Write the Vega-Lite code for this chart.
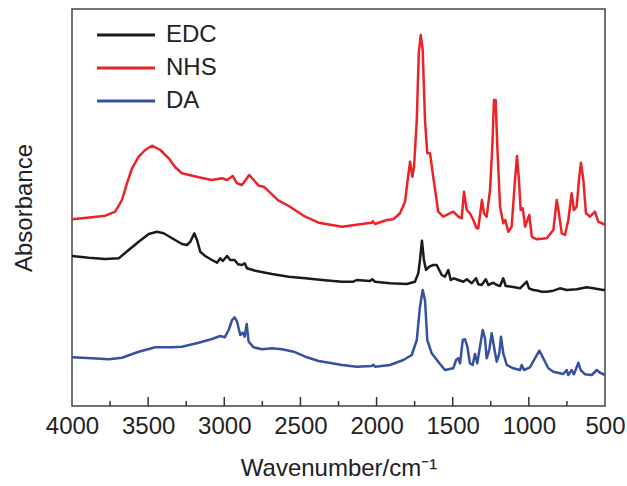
{
  "$schema": "https://vega.github.io/schema/vega-lite/v6.json",
  "autosize": "none",
  "width": 533,
  "height": 397,
  "padding": {"left": 72, "top": 9, "right": 22, "bottom": 80},
  "background": "#ffffff",
  "config": {
    "font": "Liberation Sans",
    "view": {"stroke": "#444444", "strokeWidth": 1.5},
    "axis": {"labelFont": "Liberation Sans", "titleFont": "Liberation Sans", "labelColor": "#222222", "titleColor": "#222222", "titleFontWeight": "normal", "grid": false},
    "legend": {"labelFont": "Liberation Sans", "labelColor": "#222222"}
  },
  "datasets": {
    "spectra": [
      {"s":"NHS","wn":4000,"a":186.7},{"s":"NHS","wn":3869,"a":188.7},{"s":"NHS","wn":3781,"a":190.3},{"s":"NHS","wn":3716,"a":194.3},{"s":"NHS","wn":3672,"a":206},{"s":"NHS","wn":3639,"a":222.7},{"s":"NHS","wn":3606,"a":237.7},{"s":"NHS","wn":3562,"a":249.3},{"s":"NHS","wn":3519,"a":256},{"s":"NHS","wn":3475,"a":260.3},{"s":"NHS","wn":3420,"a":256},{"s":"NHS","wn":3365,"a":247.7},{"s":"NHS","wn":3322,"a":238.7},{"s":"NHS","wn":3278,"a":232.7},{"s":"NHS","wn":3168,"a":228.7},{"s":"NHS","wn":3081,"a":226},{"s":"NHS","wn":3015,"a":227.7},{"s":"NHS","wn":2982,"a":226},{"s":"NHS","wn":2945,"a":230},{"s":"NHS","wn":2916,"a":222.7},{"s":"NHS","wn":2884,"a":221},{"s":"NHS","wn":2836,"a":231},{"s":"NHS","wn":2807,"a":226},{"s":"NHS","wn":2774,"a":220.3},{"s":"NHS","wn":2741,"a":219.3},{"s":"NHS","wn":2643,"a":205.3},{"s":"NHS","wn":2577,"a":200},{"s":"NHS","wn":2468,"a":189.3},{"s":"NHS","wn":2380,"a":183.3},{"s":"NHS","wn":2293,"a":181},{"s":"NHS","wn":2227,"a":179.3},{"s":"NHS","wn":2109,"a":181.7},{"s":"NHS","wn":2032,"a":183.3},{"s":"NHS","wn":2025,"a":184.7},{"s":"NHS","wn":2010,"a":182},{"s":"NHS","wn":1933,"a":186},{"s":"NHS","wn":1890,"a":186.7},{"s":"NHS","wn":1846,"a":192.7},{"s":"NHS","wn":1813,"a":204.3},{"s":"NHS","wn":1796,"a":226},{"s":"NHS","wn":1780,"a":244.3},{"s":"NHS","wn":1765,"a":229.3},{"s":"NHS","wn":1754,"a":239.3},{"s":"NHS","wn":1736,"a":286},{"s":"NHS","wn":1723,"a":352.7},{"s":"NHS","wn":1710,"a":371},{"s":"NHS","wn":1697,"a":356},{"s":"NHS","wn":1682,"a":286},{"s":"NHS","wn":1667,"a":252.7},{"s":"NHS","wn":1649,"a":252.7},{"s":"NHS","wn":1628,"a":229.3},{"s":"NHS","wn":1595,"a":194.3},{"s":"NHS","wn":1562,"a":189.3},{"s":"NHS","wn":1496,"a":194.3},{"s":"NHS","wn":1463,"a":189.3},{"s":"NHS","wn":1441,"a":187.7},{"s":"NHS","wn":1426,"a":214.3},{"s":"NHS","wn":1408,"a":196},{"s":"NHS","wn":1387,"a":192.7},{"s":"NHS","wn":1365,"a":186},{"s":"NHS","wn":1343,"a":177.7},{"s":"NHS","wn":1332,"a":177.7},{"s":"NHS","wn":1325,"a":186},{"s":"NHS","wn":1308,"a":206},{"s":"NHS","wn":1295,"a":192.7},{"s":"NHS","wn":1277,"a":189.3},{"s":"NHS","wn":1255,"a":216},{"s":"NHS","wn":1240,"a":259.3},{"s":"NHS","wn":1229,"a":306},{"s":"NHS","wn":1218,"a":306},{"s":"NHS","wn":1207,"a":259.3},{"s":"NHS","wn":1189,"a":199.3},{"s":"NHS","wn":1168,"a":182.7},{"s":"NHS","wn":1155,"a":186},{"s":"NHS","wn":1135,"a":174.3},{"s":"NHS","wn":1113,"a":179.3},{"s":"NHS","wn":1091,"a":226},{"s":"NHS","wn":1078,"a":250},{"s":"NHS","wn":1065,"a":226},{"s":"NHS","wn":1054,"a":196},{"s":"NHS","wn":1040,"a":197.7},{"s":"NHS","wn":1025,"a":179.3},{"s":"NHS","wn":1010,"a":186},{"s":"NHS","wn":997,"a":191},{"s":"NHS","wn":981,"a":169.3},{"s":"NHS","wn":948,"a":166.7},{"s":"NHS","wn":883,"a":167.7},{"s":"NHS","wn":839,"a":176},{"s":"NHS","wn":817,"a":206},{"s":"NHS","wn":804,"a":194.3},{"s":"NHS","wn":784,"a":172.7},{"s":"NHS","wn":763,"a":171},{"s":"NHS","wn":741,"a":186},{"s":"NHS","wn":719,"a":212.7},{"s":"NHS","wn":704,"a":196},{"s":"NHS","wn":686,"a":199.3},{"s":"NHS","wn":669,"a":229.3},{"s":"NHS","wn":658,"a":243.3},{"s":"NHS","wn":642,"a":226},{"s":"NHS","wn":625,"a":192.7},{"s":"NHS","wn":598,"a":189.3},{"s":"NHS","wn":566,"a":194.3},{"s":"NHS","wn":544,"a":184.3},{"s":"NHS","wn":511,"a":182},{"s":"NHS","wn":500,"a":181},

      {"s":"EDC","wn":4000,"a":150},{"s":"EDC","wn":3890,"a":148.3},{"s":"EDC","wn":3781,"a":147},{"s":"EDC","wn":3693,"a":147.7},{"s":"EDC","wn":3628,"a":156},{"s":"EDC","wn":3562,"a":164.3},{"s":"EDC","wn":3496,"a":172},{"s":"EDC","wn":3442,"a":174.3},{"s":"EDC","wn":3398,"a":172.7},{"s":"EDC","wn":3343,"a":167.7},{"s":"EDC","wn":3278,"a":162},{"s":"EDC","wn":3245,"a":161},{"s":"EDC","wn":3223,"a":164.3},{"s":"EDC","wn":3197,"a":172.7},{"s":"EDC","wn":3179,"a":166},{"s":"EDC","wn":3158,"a":154.3},{"s":"EDC","wn":3125,"a":150},{"s":"EDC","wn":3081,"a":146},{"s":"EDC","wn":3048,"a":143.3},{"s":"EDC","wn":3026,"a":147.7},{"s":"EDC","wn":3010,"a":145},{"s":"EDC","wn":2982,"a":150},{"s":"EDC","wn":2961,"a":146},{"s":"EDC","wn":2932,"a":146},{"s":"EDC","wn":2910,"a":141.7},{"s":"EDC","wn":2884,"a":141},{"s":"EDC","wn":2866,"a":142.7},{"s":"EDC","wn":2851,"a":137.7},{"s":"EDC","wn":2796,"a":135.3},{"s":"EDC","wn":2687,"a":132},{"s":"EDC","wn":2577,"a":129.3},{"s":"EDC","wn":2468,"a":127.7},{"s":"EDC","wn":2358,"a":126},{"s":"EDC","wn":2227,"a":124.3},{"s":"EDC","wn":2153,"a":124.3},{"s":"EDC","wn":2130,"a":126},{"s":"EDC","wn":2043,"a":125},{"s":"EDC","wn":2028,"a":126.7},{"s":"EDC","wn":2010,"a":124.3},{"s":"EDC","wn":1912,"a":122.7},{"s":"EDC","wn":1802,"a":122},{"s":"EDC","wn":1748,"a":124.3},{"s":"EDC","wn":1726,"a":132.7},{"s":"EDC","wn":1715,"a":146},{"s":"EDC","wn":1702,"a":165.3},{"s":"EDC","wn":1689,"a":146},{"s":"EDC","wn":1675,"a":136},{"s":"EDC","wn":1654,"a":139.3},{"s":"EDC","wn":1628,"a":141},{"s":"EDC","wn":1605,"a":141},{"s":"EDC","wn":1572,"a":131},{"s":"EDC","wn":1551,"a":129.3},{"s":"EDC","wn":1529,"a":136},{"s":"EDC","wn":1513,"a":126},{"s":"EDC","wn":1492,"a":127.7},{"s":"EDC","wn":1463,"a":126},{"s":"EDC","wn":1430,"a":124.3},{"s":"EDC","wn":1408,"a":126.7},{"s":"EDC","wn":1375,"a":122.7},{"s":"EDC","wn":1347,"a":127.7},{"s":"EDC","wn":1332,"a":121.7},{"s":"EDC","wn":1310,"a":121},{"s":"EDC","wn":1283,"a":126.7},{"s":"EDC","wn":1266,"a":121},{"s":"EDC","wn":1233,"a":123.3},{"s":"EDC","wn":1211,"a":121},{"s":"EDC","wn":1189,"a":120},{"s":"EDC","wn":1168,"a":127.7},{"s":"EDC","wn":1152,"a":120},{"s":"EDC","wn":1113,"a":119.3},{"s":"EDC","wn":1058,"a":117.7},{"s":"EDC","wn":1014,"a":124.3},{"s":"EDC","wn":999,"a":117.7},{"s":"EDC","wn":971,"a":116},{"s":"EDC","wn":938,"a":115.3},{"s":"EDC","wn":916,"a":114.3},{"s":"EDC","wn":883,"a":114.3},{"s":"EDC","wn":839,"a":115.3},{"s":"EDC","wn":796,"a":117.7},{"s":"EDC","wn":752,"a":116},{"s":"EDC","wn":686,"a":116.7},{"s":"EDC","wn":620,"a":118.7},{"s":"EDC","wn":577,"a":117.7},{"s":"EDC","wn":511,"a":116},{"s":"EDC","wn":500,"a":116},

      {"s":"DA","wn":4000,"a":48.7},{"s":"DA","wn":3869,"a":47.7},{"s":"DA","wn":3759,"a":46.7},{"s":"DA","wn":3672,"a":48.3},{"s":"DA","wn":3562,"a":54.3},{"s":"DA","wn":3453,"a":58.7},{"s":"DA","wn":3343,"a":58.7},{"s":"DA","wn":3278,"a":59.3},{"s":"DA","wn":3168,"a":63.3},{"s":"DA","wn":3081,"a":67},{"s":"DA","wn":3026,"a":70},{"s":"DA","wn":2997,"a":68.7},{"s":"DA","wn":2971,"a":76},{"s":"DA","wn":2949,"a":86},{"s":"DA","wn":2932,"a":88.7},{"s":"DA","wn":2916,"a":84.3},{"s":"DA","wn":2895,"a":71},{"s":"DA","wn":2879,"a":73.3},{"s":"DA","wn":2866,"a":69.3},{"s":"DA","wn":2853,"a":82},{"s":"DA","wn":2840,"a":64.3},{"s":"DA","wn":2807,"a":58.7},{"s":"DA","wn":2752,"a":56.7},{"s":"DA","wn":2687,"a":57.7},{"s":"DA","wn":2621,"a":56.7},{"s":"DA","wn":2566,"a":55},{"s":"DA","wn":2544,"a":54.3},{"s":"DA","wn":2468,"a":49.3},{"s":"DA","wn":2380,"a":45},{"s":"DA","wn":2293,"a":42.7},{"s":"DA","wn":2227,"a":41},{"s":"DA","wn":2130,"a":39.3},{"s":"DA","wn":2032,"a":40},{"s":"DA","wn":2021,"a":41.3},{"s":"DA","wn":2010,"a":39.3},{"s":"DA","wn":1912,"a":41},{"s":"DA","wn":1824,"a":46},{"s":"DA","wn":1769,"a":51},{"s":"DA","wn":1736,"a":66},{"s":"DA","wn":1715,"a":99.3},{"s":"DA","wn":1697,"a":116},{"s":"DA","wn":1682,"a":106},{"s":"DA","wn":1667,"a":66},{"s":"DA","wn":1638,"a":52.7},{"s":"DA","wn":1595,"a":44.3},{"s":"DA","wn":1551,"a":36},{"s":"DA","wn":1496,"a":37.7},{"s":"DA","wn":1478,"a":46},{"s":"DA","wn":1463,"a":47.7},{"s":"DA","wn":1452,"a":42.7},{"s":"DA","wn":1434,"a":66},{"s":"DA","wn":1419,"a":66.7},{"s":"DA","wn":1404,"a":59.3},{"s":"DA","wn":1387,"a":42.7},{"s":"DA","wn":1369,"a":41},{"s":"DA","wn":1354,"a":52},{"s":"DA","wn":1339,"a":42.7},{"s":"DA","wn":1321,"a":59.3},{"s":"DA","wn":1303,"a":76},{"s":"DA","wn":1288,"a":67.7},{"s":"DA","wn":1277,"a":47.7},{"s":"DA","wn":1260,"a":56},{"s":"DA","wn":1244,"a":72.7},{"s":"DA","wn":1229,"a":59.3},{"s":"DA","wn":1211,"a":44.3},{"s":"DA","wn":1194,"a":52.7},{"s":"DA","wn":1183,"a":69.3},{"s":"DA","wn":1168,"a":52.7},{"s":"DA","wn":1145,"a":41},{"s":"DA","wn":1102,"a":37.7},{"s":"DA","wn":1058,"a":36},{"s":"DA","wn":1047,"a":41},{"s":"DA","wn":1032,"a":36},{"s":"DA","wn":993,"a":38.7},{"s":"DA","wn":960,"a":47.7},{"s":"DA","wn":931,"a":55.3},{"s":"DA","wn":905,"a":47.7},{"s":"DA","wn":872,"a":37.7},{"s":"DA","wn":839,"a":34.3},{"s":"DA","wn":774,"a":32},{"s":"DA","wn":752,"a":36},{"s":"DA","wn":741,"a":31},{"s":"DA","wn":719,"a":36},{"s":"DA","wn":704,"a":31.7},{"s":"DA","wn":686,"a":38.7},{"s":"DA","wn":675,"a":43.3},{"s":"DA","wn":660,"a":36},{"s":"DA","wn":631,"a":31.7},{"s":"DA","wn":587,"a":31},{"s":"DA","wn":554,"a":36},{"s":"DA","wn":533,"a":33.3},{"s":"DA","wn":500,"a":31}
    ],
    "majorTicks": [{"wn":3500},{"wn":3000},{"wn":2500},{"wn":2000},{"wn":1500},{"wn":1000}],
    "minorTicks": [{"wn":3750},{"wn":3250},{"wn":2750},{"wn":2250},{"wn":1750},{"wn":1250},{"wn":750}]
  },
  "layer": [
    {
      "data": {"name": "spectra"},
      "mark": {"type": "line", "strokeWidth": 2.5, "interpolate": "linear", "strokeJoin": "round"},
      "encoding": {
        "x": {
          "field": "wn", "type": "quantitative",
          "scale": {"domain": [500, 4000], "reverse": true, "nice": false, "zero": false},
          "axis": {
            "title": "Wavenumber/cm⁻¹",
            "titleFontSize": 24, "titlePadding": 18,
            "values": [4000, 3500, 3000, 2500, 2000, 1500, 1000, 500],
            "format": "d",
            "labelFontSize": 24, "labelPadding": 8, "labelFlush": false, "labelOverlap": false,
            "ticks": false, "domain": false
          }
        },
        "y": {
          "field": "a", "type": "quantitative",
          "scale": {"domain": [0, 397], "nice": false, "zero": false},
          "axis": {"title": "Absorbance", "titleFontSize": 24, "titlePadding": 36, "labels": false, "ticks": false, "domain": false}
        },
        "color": {
          "field": "s", "type": "nominal",
          "scale": {"domain": ["EDC", "NHS", "DA"], "range": ["#1b1b1b", "#ec2227", "#3650a2"]},
          "legend": {
            "title": null, "orient": "none", "legendX": 42, "legendY": 14,
            "symbolType": "M-2.9,0H2.9", "symbolSize": 400, "symbolStrokeWidth": 2.8,
            "labelFontSize": 24, "labelOffset": 28, "rowPadding": 9, "padding": 0
          }
        }
      }
    },
    {
      "data": {"name": "majorTicks"},
      "mark": {"type": "rule", "color": "#333333", "strokeWidth": 1.5},
      "encoding": {
        "x": {"field": "wn", "type": "quantitative"},
        "y": {"datum": 0, "type": "quantitative"},
        "y2": {"datum": 9}
      }
    },
    {
      "data": {"name": "minorTicks"},
      "mark": {"type": "rule", "color": "#333333", "strokeWidth": 1.5},
      "encoding": {
        "x": {"field": "wn", "type": "quantitative"},
        "y": {"datum": 0, "type": "quantitative"},
        "y2": {"datum": 5}
      }
    }
  ]
}
